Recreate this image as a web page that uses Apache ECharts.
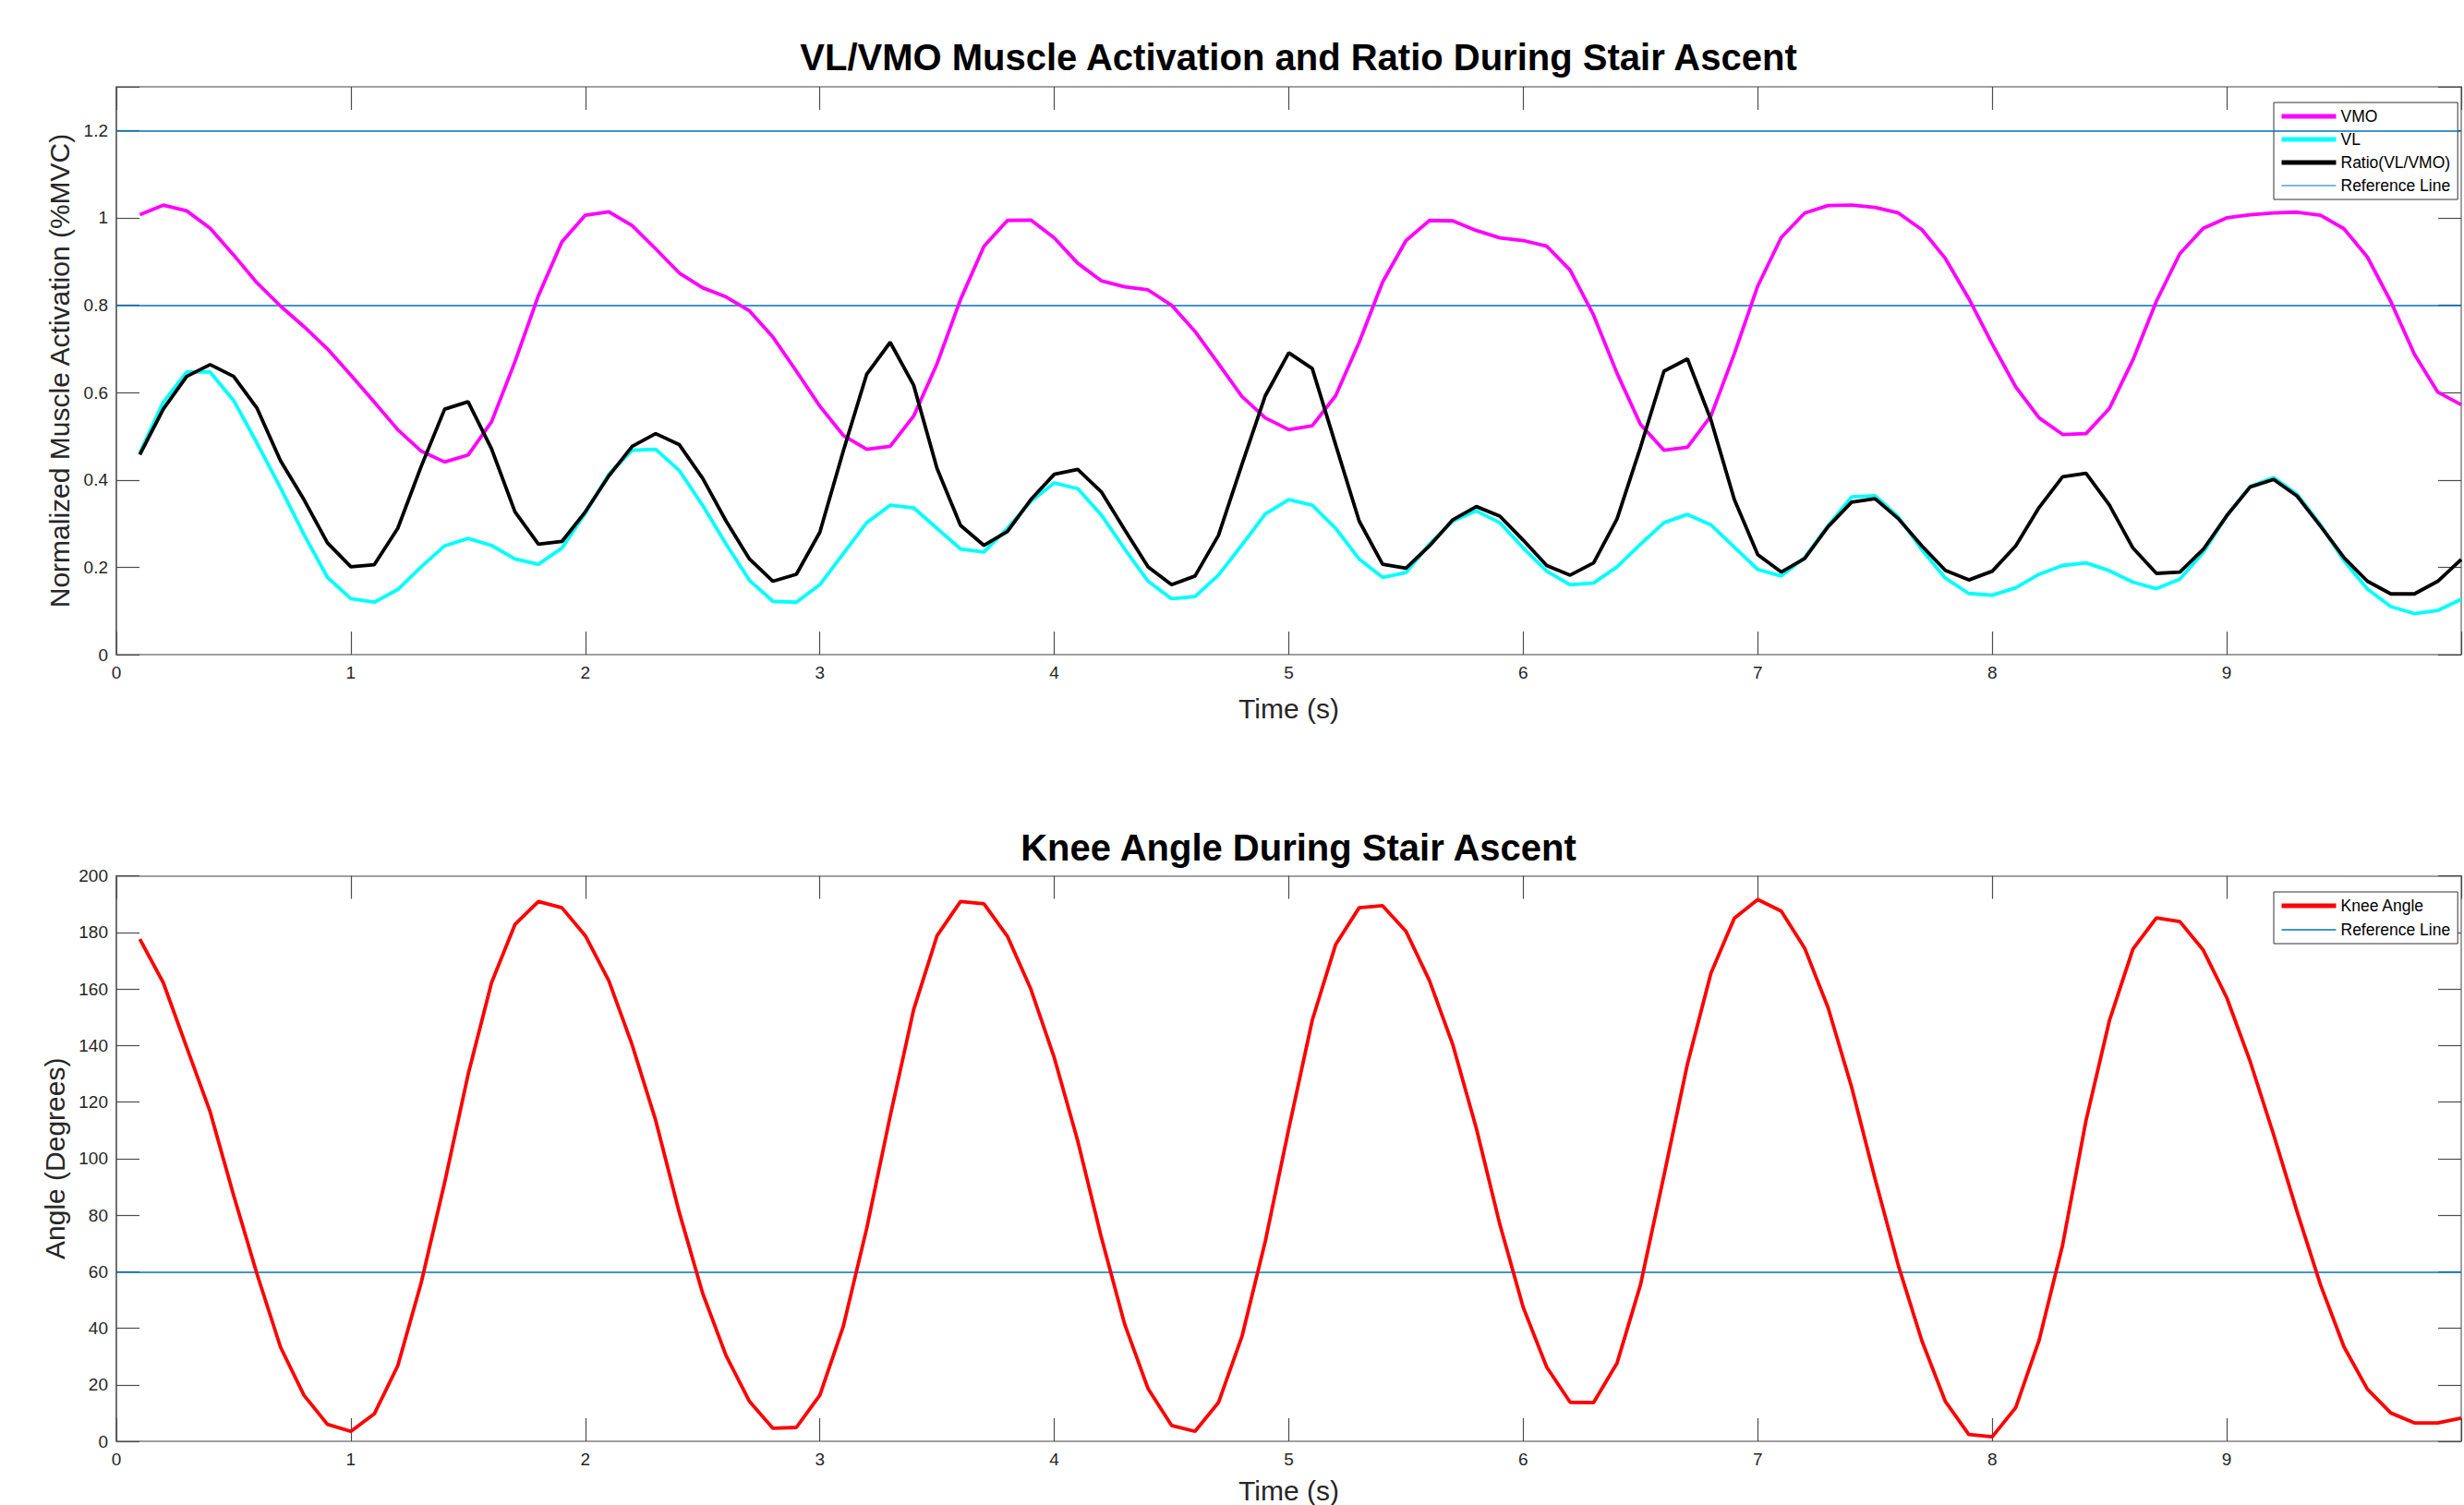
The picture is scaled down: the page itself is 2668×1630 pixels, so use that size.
<!DOCTYPE html>
<html>
<head>
<meta charset="utf-8">
<title>VL/VMO Muscle Activation and Knee Angle</title>
<script src="https://cdn.jsdelivr.net/npm/echarts@6/dist/echarts.min.js"></script>
<style>
html,body{margin:0;padding:0;background:#fff;}
#c{width:2668px;height:1630px;}
</style>
</head>
<body>
<div id="c"></div>
<script>
// ---------------- DATA ----------------
const TIME = [0.1,0.2,0.3,0.4,0.5,0.6,0.7,0.8,0.9,1.0,
1.1,1.2,1.3,1.4,1.5,1.6,1.7,1.8,1.9,2.0,
2.1,2.2,2.3,2.4,2.5,2.6,2.7,2.8,2.9,3.0,
3.1,3.2,3.3,3.4,3.5,3.6,3.7,3.8,3.9,4.0,
4.1,4.2,4.3,4.4,4.5,4.6,4.7,4.8,4.9,5.0,
5.1,5.2,5.3,5.4,5.5,5.6,5.7,5.8,5.9,6.0,
6.1,6.2,6.3,6.4,6.5,6.6,6.7,6.8,6.9,7.0,
7.1,7.2,7.3,7.4,7.5,7.6,7.7,7.8,7.9,8.0,
8.1,8.2,8.3,8.4,8.5,8.6,8.7,8.8,8.9,9.0,
9.1,9.2,9.3,9.4,9.5,9.6,9.7,9.8,9.9,10.0];

const VMO = [1.007,1.029,1.016,0.976,0.915,0.851,0.798,0.751,0.700,0.640,
0.578,0.515,0.466,0.441,0.457,0.533,0.671,0.822,0.945,1.006,
1.014,0.982,0.929,0.874,0.840,0.819,0.787,0.727,0.649,0.569,
0.502,0.470,0.477,0.546,0.666,0.813,0.935,0.994,0.995,0.954,
0.896,0.856,0.842,0.835,0.800,0.740,0.666,0.591,0.542,0.515,
0.524,0.593,0.715,0.853,0.948,0.994,0.993,0.971,0.954,0.948,
0.935,0.880,0.777,0.644,0.527,0.468,0.475,0.546,0.689,0.844,
0.955,1.011,1.028,1.029,1.024,1.011,0.973,0.907,0.815,0.711,
0.613,0.542,0.504,0.506,0.564,0.675,0.809,0.918,0.976,1.000,
1.007,1.011,1.013,1.006,0.975,0.910,0.808,0.688,0.601,0.572];

const VL = [0.462,0.578,0.647,0.647,0.582,0.484,0.382,0.275,0.177,0.128,
0.120,0.149,0.201,0.249,0.266,0.250,0.219,0.207,0.244,0.324,
0.413,0.468,0.470,0.422,0.342,0.253,0.170,0.122,0.120,0.160,
0.231,0.302,0.342,0.336,0.289,0.242,0.235,0.289,0.351,0.393,
0.380,0.320,0.242,0.168,0.128,0.133,0.182,0.251,0.322,0.355,
0.342,0.289,0.219,0.177,0.188,0.253,0.306,0.329,0.302,0.244,
0.191,0.160,0.164,0.201,0.253,0.302,0.321,0.297,0.246,0.195,
0.180,0.222,0.295,0.361,0.364,0.315,0.240,0.175,0.140,0.136,
0.153,0.184,0.204,0.210,0.192,0.166,0.151,0.173,0.234,0.318,
0.385,0.405,0.367,0.297,0.215,0.150,0.110,0.094,0.101,0.127];

const RATIO = [0.458,0.562,0.637,0.664,0.637,0.564,0.444,0.355,0.256,0.201,
0.206,0.289,0.431,0.562,0.579,0.471,0.327,0.253,0.259,0.327,
0.409,0.477,0.506,0.481,0.404,0.306,0.219,0.168,0.184,0.280,
0.466,0.642,0.715,0.617,0.426,0.296,0.250,0.282,0.355,0.413,
0.424,0.373,0.286,0.201,0.160,0.180,0.273,0.435,0.593,0.691,
0.655,0.480,0.306,0.207,0.198,0.249,0.309,0.339,0.317,0.262,
0.204,0.182,0.210,0.311,0.475,0.649,0.677,0.538,0.355,0.229,
0.189,0.220,0.293,0.349,0.357,0.311,0.249,0.193,0.171,0.191,
0.249,0.337,0.407,0.415,0.342,0.244,0.186,0.189,0.241,0.318,
0.384,0.401,0.363,0.294,0.222,0.168,0.139,0.139,0.168,0.218];

const KNEE = [177.6,162.2,139.3,116.5,87.0,59.1,33.3,16.3,6.0,3.5,
9.7,26.7,56.1,91.5,129.7,162.2,182.8,190.9,188.7,178.8,
162.9,140.1,113.5,81.1,52.4,30.3,14.1,4.6,4.9,16.3,
40.6,75.3,115.0,152.6,178.8,190.9,190.1,178.6,159.9,135.6,
106.2,72.3,41.4,18.6,5.6,3.5,13.7,37.0,70.8,110.6,
148.9,175.7,188.7,189.4,180.3,162.9,140.1,110.6,76.7,47.3,
26.2,13.8,13.7,27.7,55.4,94.0,133.4,165.5,185.0,191.6,
187.5,174.4,153.3,125.3,92.9,62.0,35.5,14.1,2.4,1.6,
11.9,35.8,69.4,113.5,148.9,174.1,185.1,183.8,173.7,156.9,
134.3,108.4,81.2,55.3,33.4,18.4,10.0,6.5,6.5,8.2];

const REF_TOP = [0.8, 1.2];
const REF_BOTTOM = [60];

const X_TICKS_MAX_LABEL = 9;

const TITLE_TOP = 'VL/VMO Muscle Activation and Ratio During Stair Ascent';
const TITLE_BOTTOM = 'Knee Angle During Stair Ascent';
const X_NAME = 'Time (s)';
const Y_NAME_TOP = 'Normalized Muscle Activation (%MVC)';
const Y_NAME_BOTTOM = 'Angle (Degrees)';
const LEGEND_TOP = ['VMO', 'VL', 'Ratio(VL/VMO)', 'Reference Line'];
const LEGEND_BOTTOM = ['Knee Angle', 'Reference Line'];

// ---------------- CHART ----------------
const FONT = '"Liberation Sans", Arial, Helvetica, sans-serif';
const TXT = '#262626';
const BOX = '#808080';
const TICK = '#4d4d4d';
const REF_COLOR = '#0072BD';
const REF_LEGEND_COLOR = '#4DA3DB';

const pair = arr => TIME.map((t, i) => [t, arr[i]]);

function xAx(grid, pos, showLabel, nameGap) {
  return {
    type: 'value', gridIndex: grid, position: pos, min: 0, max: 10, interval: 1,
    axisLine: {show: true, onZero: false, lineStyle: {color: BOX, width: 1.5}},
    axisTick: {show: true, inside: true, length: 25, lineStyle: {color: TICK, width: 1.2}},
    axisLabel: {show: showLabel, fontSize: 19, color: TXT, fontFamily: FONT, margin: 10,
      formatter: v => (v <= X_TICKS_MAX_LABEL ? String(v) : '')},
    splitLine: {show: false},
    name: showLabel ? X_NAME : '', nameLocation: 'middle', nameGap: nameGap,
    nameTextStyle: {fontSize: 30, color: TXT, fontFamily: FONT}
  };
}
function yAx(grid, pos, showLabel, min, max, interval, name, labelMax) {
  return {
    type: 'value', gridIndex: grid, position: pos, min: min, max: max, interval: interval,
    axisLine: {show: true, onZero: false, lineStyle: {color: pos === 'left' ? '#404040' : BOX, width: 1.5}},
    axisTick: {show: true, inside: true, length: 25, lineStyle: {color: TICK, width: 1.2}},
    axisLabel: {show: showLabel, fontSize: 19, color: TXT, fontFamily: FONT, margin: 9,
      formatter: v => (v > labelMax + 1e-9 ? '' : String(+v.toFixed(4)))},
    splitLine: {show: false},
    name: showLabel ? name : '', nameLocation: 'middle', nameGap: 40, nameRotate: 90,
    nameTextStyle: {fontSize: 30, color: TXT, fontFamily: FONT}
  };
}

function lineSeries(name, xi, yi, data, color, width, z) {
  return {
    name: name, type: 'line', xAxisIndex: xi, yAxisIndex: yi, data: data,
    symbol: 'none', showSymbol: false, smooth: false, animation: false, z: z,
    lineStyle: {color: color, width: width}, itemStyle: {color: color}
  };
}
function refSeries(xi, yi, values) {
  return {
    name: 'Reference Line', type: 'line', xAxisIndex: xi, yAxisIndex: yi, data: [],
    symbol: 'none', animation: false, z: 1,
    lineStyle: {color: REF_COLOR, width: 1.5}, itemStyle: {color: REF_COLOR},
    markLine: {
      symbol: 'none', silent: true, animation: false,
      label: {show: false},
      lineStyle: {color: REF_COLOR, width: 1.5, type: 'solid'},
      emphasis: {disabled: true},
      data: values.map(v => ({yAxis: v}))
    }
  };
}

function legendItems(names, refColor) {
  return names.map(n => n === 'Reference Line'
    ? {name: n, lineStyle: {width: 1.5, color: refColor}, itemStyle: {opacity: 0}}
    : {name: n, lineStyle: {width: 5}, itemStyle: {opacity: 0}});
}

const legendCommon = {
  orient: 'vertical', itemWidth: 59, itemHeight: 14, itemGap: 7,
  textStyle: {fontSize: 17.5, color: '#000', fontFamily: FONT},
  itemStyle: {opacity: 0, borderWidth: 0},
  borderColor: '#333', borderWidth: 1, backgroundColor: '#fff',
  padding: [6, 8, 6, 6], selectedMode: false
};

const option = {
  backgroundColor: '#fff',
  animation: false,
  textStyle: {fontFamily: FONT},
  title: [
    {text: TITLE_TOP, left: 1401, top: 37, textAlign: 'center',
     textStyle: {fontSize: 40, fontWeight: 'bold', color: '#000', fontFamily: FONT}},
    {text: TITLE_BOTTOM, left: 1401, top: 893, textAlign: 'center',
     textStyle: {fontSize: 40, fontWeight: 'bold', color: '#000', fontFamily: FONT}}
  ],
  grid: [
    {left: 126, right: -8, top: 94, bottom: 921, containLabel: false},
    {left: 126, right: -8, top: 948.5, bottom: 66.4, containLabel: false}
  ],
  xAxis: [xAx(0, 'bottom', true, 43), xAx(0, 'top', false, 0),
          xAx(1, 'bottom', true, 38), xAx(1, 'top', false, 0)],
  yAxis: [yAx(0, 'left', true, 0, 1.3, 0.2, Y_NAME_TOP, 1.2), yAx(0, 'right', false, 0, 1.3, 0.2, '', 1.2),
          yAx(1, 'left', true, 0, 200, 20, Y_NAME_BOTTOM, 200), yAx(1, 'right', false, 0, 200, 20, '', 200)],
  legend: [
    Object.assign({}, legendCommon, {data: legendItems(LEGEND_TOP, REF_LEGEND_COLOR), left: 2462, top: 111}),
    Object.assign({}, legendCommon, {data: legendItems(LEGEND_BOTTOM, REF_COLOR), left: 2462, top: 966, itemGap: 8})
  ],
  series: [
    lineSeries('VMO', 0, 0, pair(VMO), '#FF00FF', 3.8, 5),
    lineSeries('VL', 0, 0, pair(VL), '#00FFFF', 3.8, 6),
    lineSeries('Ratio(VL/VMO)', 0, 0, pair(RATIO), '#000000', 3.8, 7),
    refSeries(0, 0, REF_TOP),
    lineSeries('Knee Angle', 2, 2, pair(KNEE), '#FF0000', 3.8, 5),
    refSeries(2, 2, REF_BOTTOM)
  ]
};

const chart = echarts.init(document.getElementById('c'), null, {renderer: 'svg', width: 2668, height: 1630});
chart.setOption(option);
</script>
</body>
</html>
